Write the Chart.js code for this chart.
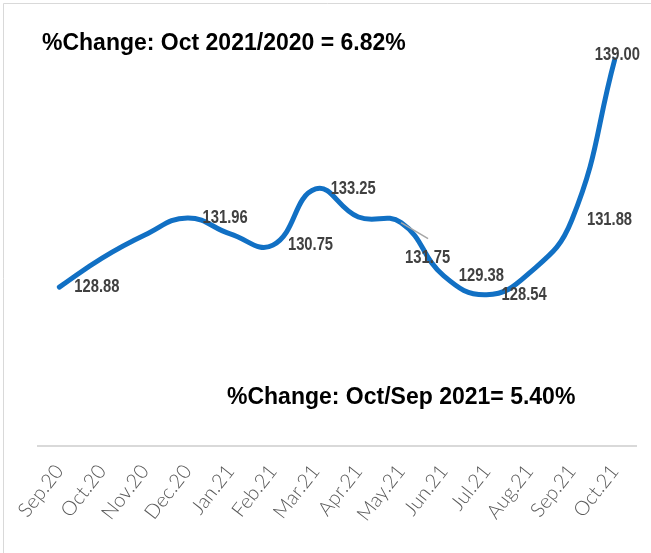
<!DOCTYPE html>
<html>
<head>
<meta charset="utf-8">
<script src="https://cdn.jsdelivr.net/npm/chart.js@4.4.0/dist/chart.umd.min.js"></script>
<style>
  html, body { margin: 0; padding: 0; background: #fff; }
</style>
</head>
<body>
<canvas id="cpiChart" width="651" height="553"></canvas>
<script>
// monthly index values
const months = ['Sep.20', 'Oct.20', 'Nov.20', 'Dec.20', 'Jan.21', 'Feb.21', 'Mar.21',
                'Apr.21', 'May.21', 'Jun.21', 'Jul.21', 'Aug.21', 'Sep.21', 'Oct.21']
const values = [128.88, 130.17, 131.2, 131.96, 131.25, 130.75, 133.25,
                132.0, 131.75, 129.38, 128.54, 129.5, 131.88, 139.00]
// months that carry a value label
const labelled = ['Sep.20', 'Dec.20', 'Feb.21', 'Mar.21', 'May.21', 'Jun.21', 'Jul.21', 'Sep.21', 'Oct.21']
const notes = ['%Change: Oct 2021/2020 = 6.82%', '%Change: Oct/Sep 2021= 5.40%']

// the May label was dragged away from its point, with a leader line
const movedLabels = { 'May.21': { dx: 4, dy: 35 } }

const frame = {
  id: 'frame',
  beforeDraw(chart) {
    const ctx = chart.ctx
    ctx.save()
    ctx.fillStyle = '#fff'
    ctx.fillRect(0, 0, chart.width, chart.height)
    ctx.strokeStyle = '#d9d9d9'
    ctx.lineWidth = 1
    ctx.beginPath()
    ctx.moveTo(3.5, chart.height)
    ctx.lineTo(3.5, 3.5)
    ctx.lineTo(chart.width, 3.5)
    ctx.stroke()
    ctx.restore()
  }
}

const noteText = {
  id: 'noteText',
  afterDraw(chart) {
    const ctx = chart.ctx
    ctx.save()
    ctx.font = 'bold 23px "Liberation Sans", Arial, sans-serif'
    ctx.fillStyle = '#000'
    ctx.textBaseline = 'alphabetic'
    ctx.fillText(notes[0], 42, 50)
    ctx.fillText(notes[1], 227, 404)
    ctx.restore()
  }
}

// condensed bold labels, squeezed horizontally like the original
const squeeze = 0.82

const valueLabels = {
  id: 'valueLabels',
  afterDatasetsDraw(chart) {
    const ctx = chart.ctx
    const meta = chart.getDatasetMeta(0)
    ctx.save()
    ctx.font = 'bold 18px "Liberation Sans", sans-serif'
    ctx.fillStyle = '#404040'
    ctx.textBaseline = 'middle'
    meta.data.forEach((pt, i) => {
      if (!labelled.includes(months[i])) return
      const txt = values[i].toFixed(2)
      const w = ctx.measureText(txt).width * squeeze
      let x = pt.x + 15
      let y = pt.y
      const moved = movedLabels[months[i]]
      if (moved) {
        ctx.strokeStyle = '#a6a6a6'
        ctx.lineWidth = 1.5
        ctx.beginPath()
        ctx.moveTo(pt.x, pt.y)
        ctx.lineTo(pt.x + 27, pt.y + 16)
        ctx.stroke()
        x = pt.x + moved.dx
        y = pt.y + moved.dy
      }
      if (x + w > chart.width - 11) {
        x = chart.width - 11 - w
        y -= 5
      }
      ctx.save()
      ctx.translate(x, y)
      ctx.scale(squeeze, 1)
      ctx.fillText(txt, 0, 0)
      ctx.restore()
    })
    ctx.restore()
  }
}

new Chart(document.getElementById('cpiChart'), {
  type: 'line',
  data: {
    labels: months,
    datasets: [{
      data: values,
      borderColor: '#1170c4',
      borderWidth: 5,
      tension: 0.45,
      pointRadius: 0,
      fill: false,
      borderCapStyle: 'round',
      borderJoinStyle: 'round'
    }]
  },
  options: {
    responsive: false,
    animation: false,
    devicePixelRatio: 1,
    layout: { padding: { left: 38, right: 15, top: 15, bottom: 0 } },
    plugins: {
      legend: { display: false },
      tooltip: { enabled: false }
    },
    scales: {
      x: {
        offset: true,
        grid: { display: false, drawTicks: false },
        border: { display: true, color: '#d9d9d9', width: 2 },
        ticks: {
          color: '#595959',
          font: { family: 'Lato', weight: '300', size: 20 },
          minRotation: 52,
          maxRotation: 52,
          autoSkip: false,
          padding: 14
        },
        afterFit: s => { s.height = 107 }
      },
      y: { display: false, min: 121.8, max: 141 }
    }
  },
  plugins: [frame, valueLabels, noteText]
})
</script>
</body>
</html>
